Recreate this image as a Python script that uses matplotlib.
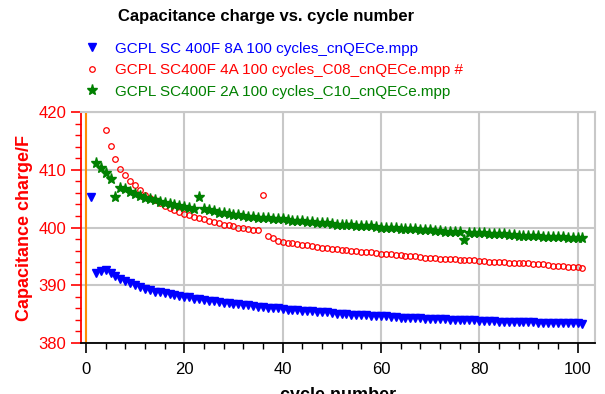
"""Capacitance charge vs. cycle number — three GCPL runs."""

import matplotlib
matplotlib.use("Agg")
import matplotlib.pyplot as plt
from matplotlib.ticker import MultipleLocator

plt.rcParams["font.family"] = ["Liberation Sans", "DejaVu Sans"]

# -- data --
cycles_8a = list(range(1, 102))
cap_8a = [
    405.2, 392.1, 392.4, 392.6, 392.2, 391.6, 391.1, 390.7, 390.4, 390.0,
    389.7, 389.4, 389.1, 388.9, 388.8, 388.7, 388.5, 388.3, 388.1, 388.0,
    387.9, 387.7, 387.6, 387.4, 387.3, 387.2, 387.1, 387.0, 386.9, 386.8,
    386.7, 386.6, 386.5, 386.4, 386.3, 386.2, 386.1, 386.0, 386.0, 385.9,
    385.8, 385.7, 385.7, 385.6, 385.5, 385.5, 385.4, 385.3, 385.3, 385.2,
    385.1, 385.1, 385.0, 384.9, 384.9, 384.8, 384.8, 384.7, 384.7, 384.6,
    384.6, 384.5, 384.5, 384.4, 384.4, 384.3, 384.3, 384.3, 384.2, 384.2,
    384.1, 384.1, 384.1, 384.0, 384.0, 384.0, 383.9, 383.9, 383.9, 383.8,
    383.8, 383.8, 383.8, 383.7, 383.7, 383.7, 383.7, 383.6, 383.6, 383.6,
    383.6, 383.5, 383.5, 383.5, 383.5, 383.4, 383.4, 383.4, 383.4, 383.4,
    383.3,
]

cycles_4a = list(range(4, 102))
cap_4a = [
    416.9, 414.2, 411.8, 410.2, 409.1, 408.1, 407.3, 406.5, 405.7, 405.1,
    404.7, 404.2, 403.7, 403.3, 403.0, 402.7, 402.4, 402.2, 401.9, 401.7,
    401.4, 401.2, 400.9, 400.7, 400.5, 400.4, 400.2, 400.0, 399.9, 399.8,
    399.6, 399.5, 405.6, 398.5, 398.1, 397.7, 397.5, 397.4, 397.3, 397.1,
    397.0, 396.9, 396.8, 396.6, 396.5, 396.4, 396.3, 396.2, 396.1, 396.1,
    396.0, 395.9, 395.8, 395.8, 395.7, 395.6, 395.5, 395.5, 395.4, 395.3,
    395.2, 395.1, 395.1, 395.0, 394.9, 394.8, 394.7, 394.7, 394.6, 394.6,
    394.5, 394.5, 394.4, 394.4, 394.3, 394.3, 394.2, 394.2, 394.1, 394.1,
    394.0, 394.0, 393.9, 393.9, 393.8, 393.8, 393.8, 393.7, 393.7, 393.6,
    393.5, 393.4, 393.3, 393.3, 393.2, 393.2, 393.1, 393.0,
]

cycles_2a = list(range(2, 102))
cap_2a = [
    411.1, 410.3, 409.5, 408.4, 405.3, 406.9, 406.6, 406.2, 405.8, 405.4,
    405.1, 404.9, 404.7, 404.5, 404.3, 404.1, 403.9, 403.7, 403.6, 403.4,
    403.2, 405.2, 403.2, 403.0, 402.8, 402.6, 402.5, 402.4, 402.2, 402.1,
    402.0, 401.9, 401.8, 401.7, 401.6, 401.6, 401.5, 401.4, 401.4, 401.3,
    401.2, 401.1, 401.1, 401.0, 400.9, 400.8, 400.7, 400.7, 400.6, 400.5,
    400.5, 400.4, 400.4, 400.3, 400.3, 400.2, 400.2, 400.1, 400.0, 400.0,
    399.9, 399.9, 399.8, 399.8, 399.7, 399.7, 399.6, 399.5, 399.5, 399.4,
    399.4, 399.3, 399.3, 399.2, 399.2, 397.9, 399.1, 399.1, 399.0, 399.0,
    398.9, 398.9, 398.8, 398.8, 398.7, 398.7, 398.6, 398.6, 398.5, 398.5,
    398.5, 398.4, 398.4, 398.3, 398.3, 398.3, 398.2, 398.2, 398.1, 398.1,
]

labels = [
    "GCPL SC 400F 8A 100 cycles_cnQECe.mpp",
    "GCPL SC400F 4A 100 cycles_C08_cnQECe.mpp #",
    "GCPL SC400F 2A 100 cycles_C10_cnQECe.mpp",
]
colors = ["#0000ff", "#ff0000", "#008000"]

fig = plt.figure(figsize=(6.05, 3.94), dpi=100)
ax = fig.add_axes([0.134, 0.1294, 0.849, 0.5863])

h1, = ax.plot(cycles_8a, cap_8a, linestyle="none", marker="v", ms=6,
              color=colors[0], mec=colors[0])
h2, = ax.plot(cycles_4a, cap_4a, linestyle="none", marker="o", ms=4,
              mfc="none", mec=colors[1], mew=0.9)
h3, = ax.plot(cycles_2a, cap_2a, linestyle="none", marker="*", ms=8,
              color=colors[2], mec=colors[2])

ax.axvline(0, color="#ff8c00", lw=1.5, zorder=1)

ax.set_xlim(-1, 103.5)
ax.set_ylim(380, 420)
ax.xaxis.set_major_locator(MultipleLocator(20))
ax.xaxis.set_minor_locator(MultipleLocator(4))
ax.yaxis.set_major_locator(MultipleLocator(10))
ax.yaxis.set_minor_locator(MultipleLocator(2))
ax.grid(True, which="major", color="#c8c8c8", lw=1.5)
ax.set_axisbelow(True)

ax.spines["left"].set_color("#ff0000")
ax.spines["left"].set_linewidth(1.3)
ax.spines["bottom"].set_color("black")
ax.spines["bottom"].set_linewidth(1.3)
for side in ("top", "right"):
    ax.spines[side].set_color("#c8c8c8")
    ax.spines[side].set_linewidth(1.5)

ax.tick_params(axis="y", which="both", colors="#ff0000", labelsize=12)
ax.tick_params(axis="y", which="major", length=7, width=1.2)
ax.tick_params(axis="y", which="minor", length=4, width=1)
ax.tick_params(axis="x", which="both", colors="black", labelsize=12)
ax.tick_params(axis="x", which="major", length=7, width=1.2, pad=7)
ax.tick_params(axis="x", which="minor", length=4, width=1)

ax.set_ylabel("Capacitance charge/F", color="#ff0000", fontsize=13,
              fontweight="bold", labelpad=4)
ax.set_xlabel("cycle number", fontsize=13, fontweight="bold", labelpad=7)

fig.text(0.44, 0.958, "Capacitance charge vs. cycle number", ha="center",
         va="center", fontsize=12, fontweight="bold")

fig.legend([h1, h2, h3], labels, loc="upper left",
           bbox_to_anchor=(0.125, 0.914), frameon=False, fontsize=11,
           labelcolor=colors, handletextpad=0.9, labelspacing=0.5,
           handlelength=1.2, borderpad=0)

fig.savefig("out.png", dpi=100)
